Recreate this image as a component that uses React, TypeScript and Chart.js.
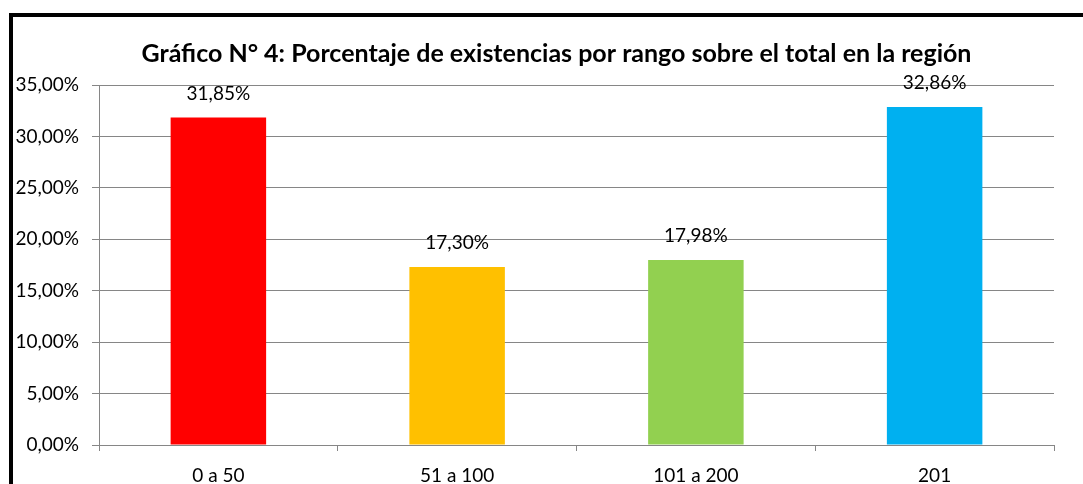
import React, { useEffect, useRef } from "react";
import { Chart, registerables } from "chart.js";

Chart.register(...registerables);

const categories = ["0 a 50", "51 a 100", "101 a 200", "201"];
const values = [31.85, 17.3, 17.98, 32.86];
const barColors = ["#FF0000", "#FFC000", "#92D050", "#00B0F0"];
const yMin = 0;
const yMax = 35;
const yStep = 5;
const titleText = "Gráfico N° 4: Porcentaje de existencias por rango sobre el total en la región";

const FONT = "Lato, 'Open Sans', sans-serif";
const fmt = (v: number) => v.toFixed(2).replace(".", ",") + "%";

const labelPlugin = {
  id: "barLabels",
  afterDatasetsDraw(chart: any) {
    const ctx = chart.ctx;
    const meta = chart.getDatasetMeta(0);
    ctx.save();
    ctx.font = `19px ${FONT}`;
    ctx.fillStyle = "#000";
    ctx.textAlign = "center";
    ctx.textBaseline = "middle";
    meta.data.forEach((bar: any, i: number) => {
      ctx.fillText(fmt(values[i]), bar.x, bar.y - 24);
    });
    ctx.restore();
  },
};

const titlePlugin = {
  id: "customTitle",
  afterDraw(chart: any) {
    const ctx = chart.ctx;
    const a = chart.chartArea;
    ctx.save();
    ctx.font = `bold 25px ${FONT}`;
    ctx.fillStyle = "#000";
    ctx.textAlign = "center";
    ctx.textBaseline = "middle";
    ctx.fillText(titleText, (a.left + a.right) / 2 - 20, a.top - 31);
    ctx.restore();
  },
};

export default function App() {
  const ref = useRef<HTMLCanvasElement | null>(null);
  useEffect(() => {
    if (!ref.current) return;
    const chart = new Chart(ref.current, {
      type: "bar",
      data: {
        labels: categories,
        datasets: [
          {
            data: values,
            backgroundColor: barColors,
            borderWidth: 0,
            categoryPercentage: 1,
            barPercentage: 0.4,
          },
        ],
      },
      options: {
        animation: false,
        responsive: true,
        maintainAspectRatio: false,
        layout: { padding: { left: 0, right: 29, top: 85, bottom: 0 } },
        plugins: { legend: { display: false }, title: { display: false }, tooltip: { enabled: false } },
        scales: {
          x: {
            afterFit: (s: any) => {
              s.height = 39;
            },
            grid: { drawOnChartArea: false, drawTicks: true, tickLength: 6, color: "#868686", offset: true },
            border: { color: "#868686", width: 1 },
            ticks: { color: "#000", font: { family: FONT, size: 19 }, padding: 13 },
          },
          y: {
            min: yMin,
            max: yMax,
            afterFit: (s: any) => {
              s.width = 99;
            },
            grid: { color: "#868686", tickLength: 7, lineWidth: 1 },
            border: { color: "#868686", width: 1 },
            ticks: {
              stepSize: yStep,
              color: "#000",
              font: { family: FONT, size: 19 },
              padding: 13,
              callback: (v: any) => fmt(Number(v)),
            },
          },
        },
      },
      plugins: [labelPlugin, titlePlugin],
    });
    return () => chart.destroy();
  }, []);

  return (
    <div style={{ position: "fixed", left: 0, top: 0, width: 1083, height: 484, overflow: "hidden", background: "#fff" }}>
      <div
        style={{
          position: "absolute",
          left: 9,
          top: 13,
          width: 1200,
          height: 600,
          border: "4px solid #000",
          boxSizing: "border-box",
        }}
      />
      <div style={{ position: "absolute", left: 0, top: 0, width: 1083, height: 484 }}>
        <canvas ref={ref} />
      </div>
    </div>
  );
}
